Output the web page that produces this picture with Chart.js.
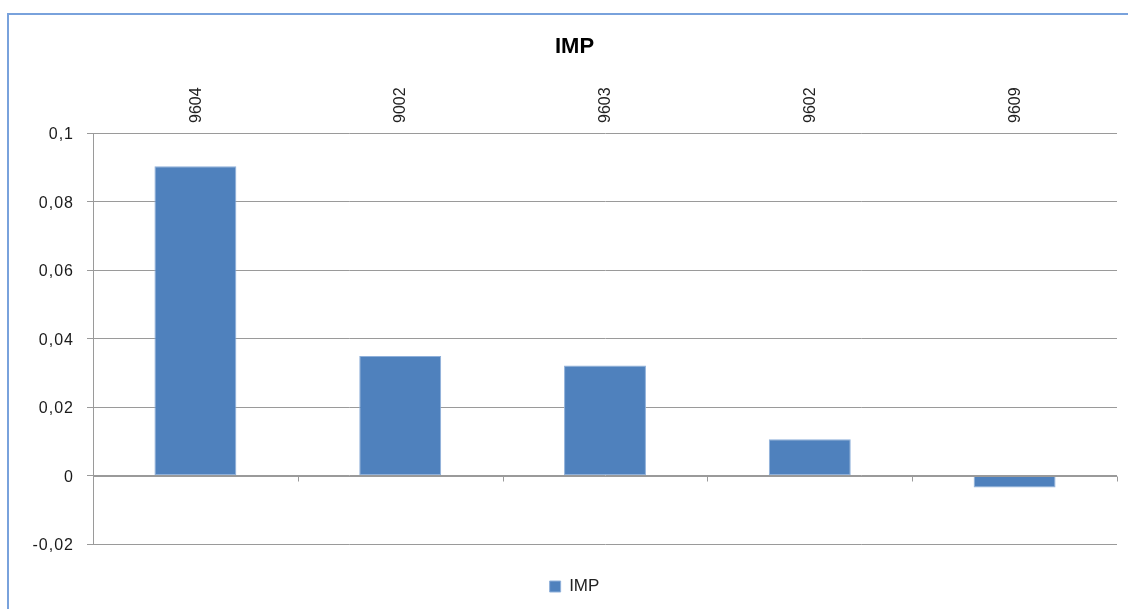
<!DOCTYPE html>
<html><head><meta charset="utf-8">
<script src="https://cdn.jsdelivr.net/npm/chart.js@4.4.0/dist/chart.umd.min.js"></script>
<style>
html,body{margin:0;padding:0;background:#fff;overflow:hidden;}
#wrap{position:relative;width:1128px;height:609px;overflow:hidden;background:#fff;}
#frame{position:absolute;left:7px;top:13px;width:2000px;height:2000px;border-left:2px solid #79a2dc;border-top:2px solid #79a2dc;}
canvas{position:absolute;left:0;top:0;}
</style></head><body>
<div id="wrap"><div id="frame"></div><canvas id="c" width="1128" height="609"></canvas></div>
<script>
const categories = ['9604', '9002', '9603', '9602', '9609'];
const seriesName = 'IMP';
const impValues = [0.0903, 0.0349, 0.0321, 0.0106, -0.0035];
const yMin = -0.02, yMax = 0.1, yStep = 0.02;

const FONT = "'Liberation Sans', Arial, sans-serif";
const GRID = '#9a9a9a';

const zeroTicks = {
  id: 'zeroTicks',
  afterDatasetsDraw(chart) {
    const x = chart.scales.x, y = chart.scales.y, ctx = chart.ctx;
    const y0 = Math.round(y.getPixelForValue(0)) + 0.5;
    ctx.save();
    ctx.strokeStyle = GRID;
    ctx.lineWidth = 1;
    ctx.beginPath();
    ctx.moveTo(x.left, y0); ctx.lineTo(x.right, y0);
    for (let i = 1; i <= categories.length; i++) {
      const px = Math.round(x.getPixelForValue(i - 0.5)) + 0.5;
      ctx.moveTo(px, y0); ctx.lineTo(px, y0 + 5);
    }
    ctx.stroke();
    ctx.restore();
    // slightly wider spacing for the value-axis labels drawn after this point
    ctx.letterSpacing = '1px';
  },
  afterDraw(chart) {
    chart.ctx.letterSpacing = '0px';
  }
};

new Chart(document.getElementById('c'), {
  type: 'bar',
  data: {
    labels: categories,
    datasets: [{
      label: seriesName,
      data: impValues,
      backgroundColor: '#4f81bd',
      borderColor: '#8fb0da',
      borderWidth: 1,
      borderSkipped: false,
      barPercentage: 0.4,
      categoryPercentage: 1.0
    }]
  },
  options: {
    responsive: false,
    animation: false,
    devicePixelRatio: 1,
    layout: { padding: { left: 32, right: 11, top: 0, bottom: 4 } },
    plugins: {
      title: {
        display: true, text: 'IMP', color: '#000',
        font: { family: FONT, size: 22, weight: 'bold', lineHeight: 1.2 },
        padding: { top: 34, bottom: 0 }
      },
      legend: {
        position: 'bottom',
        labels: {
          color: '#222', boxWidth: 11, boxHeight: 11, padding: 10,
          font: { family: FONT, size: 17 }
        }
      },
      tooltip: { enabled: false }
    },
    scales: {
      x: {
        position: 'top',
        offset: true,
        grid: { display: false },
        border: { display: false },
        ticks: { minRotation: 90, maxRotation: 90, padding: 2, labelOffset: 20, color: '#222',
                 font: { family: FONT, size: 16 } },
        afterFit(s) { s.height = 72.6; }
      },
      xb: {
        type: 'category',
        labels: [''],
        position: 'bottom',
        grid: { display: false },
        border: { display: false },
        ticks: { display: false },
        afterFit(s) { s.height = 24; }
      },
      y: {
        min: yMin, max: yMax,
        grid: { color: GRID, lineWidth: 1, tickLength: 6, drawTicks: true },
        border: { display: true, color: GRID, width: 1 },
        ticks: {
          z: 1,
          stepSize: yStep, padding: 13, labelOffset: 2, color: '#1a1a1a',
          font: { family: FONT, size: 16 },
          callback: v => String(Number(v.toFixed(2))).replace('.', ',')
        },
        afterFit(s) { s.width = 61; }
      }
    }
  },
  plugins: [zeroTicks]
});
</script>
</body></html>
